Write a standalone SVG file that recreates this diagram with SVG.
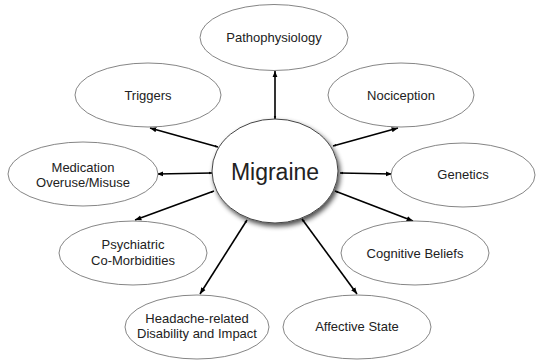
<svg xmlns="http://www.w3.org/2000/svg" width="537" height="362" viewBox="0 0 537 362">
<style>
.node ellipse{fill:#fff;stroke:#666;stroke-width:0.8}
.node text{font-family:"Liberation Sans",Arial,sans-serif;font-size:13px;fill:#222;text-anchor:middle}
#migraine text{font-size:23px}
.conn line{stroke:#000;stroke-width:1.6;fill:none}
</style>
<defs>
<marker id="ah" viewBox="0 0 10 10" refX="10" refY="5" markerWidth="4" markerHeight="4" orient="auto" markerUnits="strokeWidth">
<path d="M0,1 L10,5 L0,9 z" fill="#000"/>
</marker>
<marker id="as" viewBox="0 0 10 10" refX="0" refY="5" markerWidth="2" markerHeight="2" orient="auto" markerUnits="strokeWidth">
<path d="M10,1 L0,5 L10,9 z" fill="#000"/>
</marker>
<filter id="sh" x="-20%" y="-20%" width="150%" height="150%">
<feGaussianBlur in="SourceAlpha" stdDeviation="2.5"/>
<feOffset dx="2" dy="3" result="b"/>
<feComponentTransfer><feFuncA type="linear" slope="0.7"/></feComponentTransfer>
<feMerge><feMergeNode/><feMergeNode in="SourceGraphic"/></feMerge>
</filter>
</defs>
<rect width="537" height="362" fill="#fff"/>
<g class="conn">
<line x1="275" y1="119" x2="275" y2="71" marker-end="url(#ah)" marker-start="url(#as)"/>
<line x1="218" y1="147" x2="150" y2="128" marker-end="url(#ah)" marker-start="url(#as)"/>
<line x1="212" y1="173" x2="157" y2="174" marker-end="url(#ah)" marker-start="url(#as)"/>
<line x1="214" y1="191" x2="135" y2="220" marker-end="url(#ah)" marker-start="url(#as)"/>
<line x1="247" y1="220" x2="200" y2="294" marker-end="url(#ah)" marker-start="url(#as)"/>
<line x1="302" y1="219" x2="357" y2="294" marker-end="url(#ah)" marker-start="url(#as)"/>
<line x1="335" y1="191" x2="413" y2="221" marker-end="url(#ah)" marker-start="url(#as)"/>
<line x1="340" y1="173" x2="392" y2="174" marker-end="url(#ah)" marker-start="url(#as)"/>
<line x1="333" y1="146" x2="398" y2="128" marker-end="url(#ah)" marker-start="url(#as)"/>
</g>
<g id="pathophysiology" class="node"><ellipse cx="274" cy="37.5" rx="74" ry="33"/><text x="274" y="42">Pathophysiology</text></g>
<g id="triggers" class="node"><ellipse cx="148" cy="95" rx="73" ry="32"/><text x="148" y="99.5">Triggers</text></g>
<g id="nociception" class="node"><ellipse cx="401" cy="95" rx="73" ry="32"/><text x="401" y="99.5">Nociception</text></g>
<g id="medication" class="node"><ellipse cx="83" cy="174" rx="75" ry="32"/><text x="83" y="172">Medication</text><text x="83" y="187">Overuse/Misuse</text></g>
<g id="genetics" class="node"><ellipse cx="463" cy="175" rx="72" ry="32"/><text x="463" y="179">Genetics</text></g>
<g id="psychiatric" class="node"><ellipse cx="133" cy="253" rx="74" ry="32"/><text x="133" y="249">Psychiatric</text><text x="133" y="265">Co-Morbidities</text></g>
<g id="cognitive" class="node"><ellipse cx="415" cy="253" rx="74" ry="32"/><text x="415" y="257.5">Cognitive Beliefs</text></g>
<g id="headache" class="node"><ellipse cx="197" cy="327" rx="72" ry="32"/><text x="197" y="323">Headache-related</text><text x="197" y="338">Disability and Impact</text></g>
<g id="affective" class="node"><ellipse cx="357" cy="327" rx="74" ry="32"/><text x="357" y="331">Affective State</text></g>
<g id="migraine" class="node"><ellipse cx="275" cy="171" rx="63" ry="52" filter="url(#sh)" style="stroke:#444;stroke-width:1"/><text x="275" y="180">Migraine</text></g>
</svg>
